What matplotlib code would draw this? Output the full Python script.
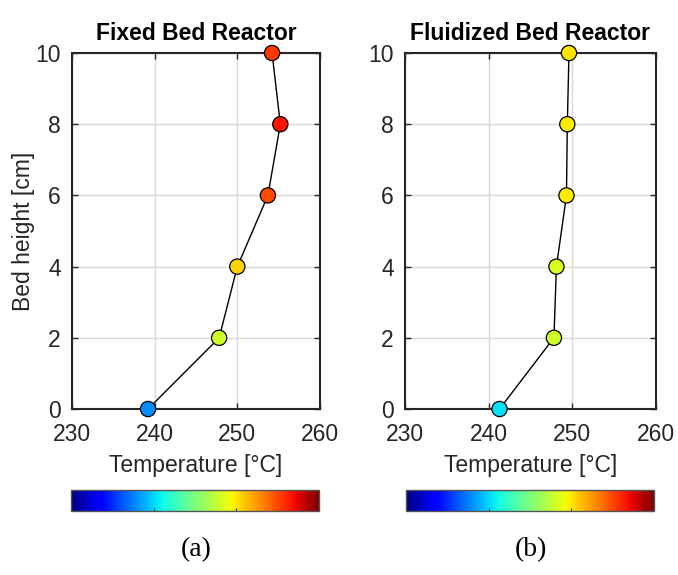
import matplotlib
matplotlib.use("Agg")
import matplotlib.pyplot as plt
import numpy as np
from matplotlib import cm, colors

heights = [0, 2, 4, 6, 8, 10]
fixed_temp = [239.2, 247.8, 250.0, 253.7, 255.2, 254.2]
fluid_temp = [241.3, 247.8, 248.1, 249.3, 249.4, 249.6]
titles = ["Fixed Bed Reactor", "Fluidized Bed Reactor"]
panel_labels = ["(a)", "(b)"]
xticks = [230, 240, 250, 260]
yticks = [0, 2, 4, 6, 8, 10]

plt.rcParams['font.family'] = ['Liberation Sans', 'DejaVu Sans']
fig = plt.figure(figsize=(6.78, 5.75), dpi=100)

cmap = plt.get_cmap('jet')
mnorm = colors.Normalize(vmin=232.5, vmax=258.0)
cnorm = colors.Normalize(vmin=230, vmax=260)

ax_pos = [[72/678, 1-409/575, 248/678, 356/575], [405/678, 1-409/575, 251/678, 356/575]]
cb_pos = [[71/678, 1-511/575, 248/678, 21/575], [406/678, 1-511/575, 248/678, 21/575]]
dark = '#262626'
for i, temps in enumerate([fixed_temp, fluid_temp]):
    ax = fig.add_axes(ax_pos[i])
    ax.plot(temps, heights, color='black', lw=1.0, zorder=3)
    ax.scatter(temps, heights, s=120, c=[cmap(mnorm(t)) for t in temps],
               edgecolors='black', linewidths=0.9, zorder=4, clip_on=False)
    ax.set_xlim(230, 260)
    ax.set_ylim(0, 10)
    ax.set_xticks(xticks)
    ax.set_yticks(yticks)
    ax.grid(True, color='#d9d9d9', lw=1.0)
    ax.set_axisbelow(True)
    for s in ax.spines.values():
        s.set_color(dark)
        s.set_linewidth(1.5)
    ax.tick_params(direction='in', length=4, width=1, colors=dark, labelsize=16.5,
                   top=True, right=True)
    ax.tick_params(axis='x', pad=10)
    ax.tick_params(axis='y', pad=8)
    ax.set_title(titles[i], fontsize=16.5, fontweight='bold', color='black', pad=9)
    ax.set_xlabel("Temperature [°C]", fontsize=16.5, color=dark, labelpad=6)
    if i == 0:
        ax.set_ylabel("Bed height [cm]", fontsize=16.5, color=dark, labelpad=0)
    cax = fig.add_axes(cb_pos[i])
    sm = cm.ScalarMappable(norm=cnorm, cmap=cmap)
    cb = fig.colorbar(sm, cax=cax, orientation='horizontal')
    cb.set_ticks([240, 250])
    cax.tick_params(direction='in', length=2, width=0.8, labelbottom=False, colors=dark)
    cb.outline.set_edgecolor('#555555')
    cb.outline.set_linewidth(1.0)
    fig.text(ax_pos[i][0] + ax_pos[i][2]/2, 1-550/575, panel_labels[i],
             ha='center', va='center', fontsize=20, family=['Liberation Serif'])

fig.savefig("out.png", dpi=100, facecolor='white')
